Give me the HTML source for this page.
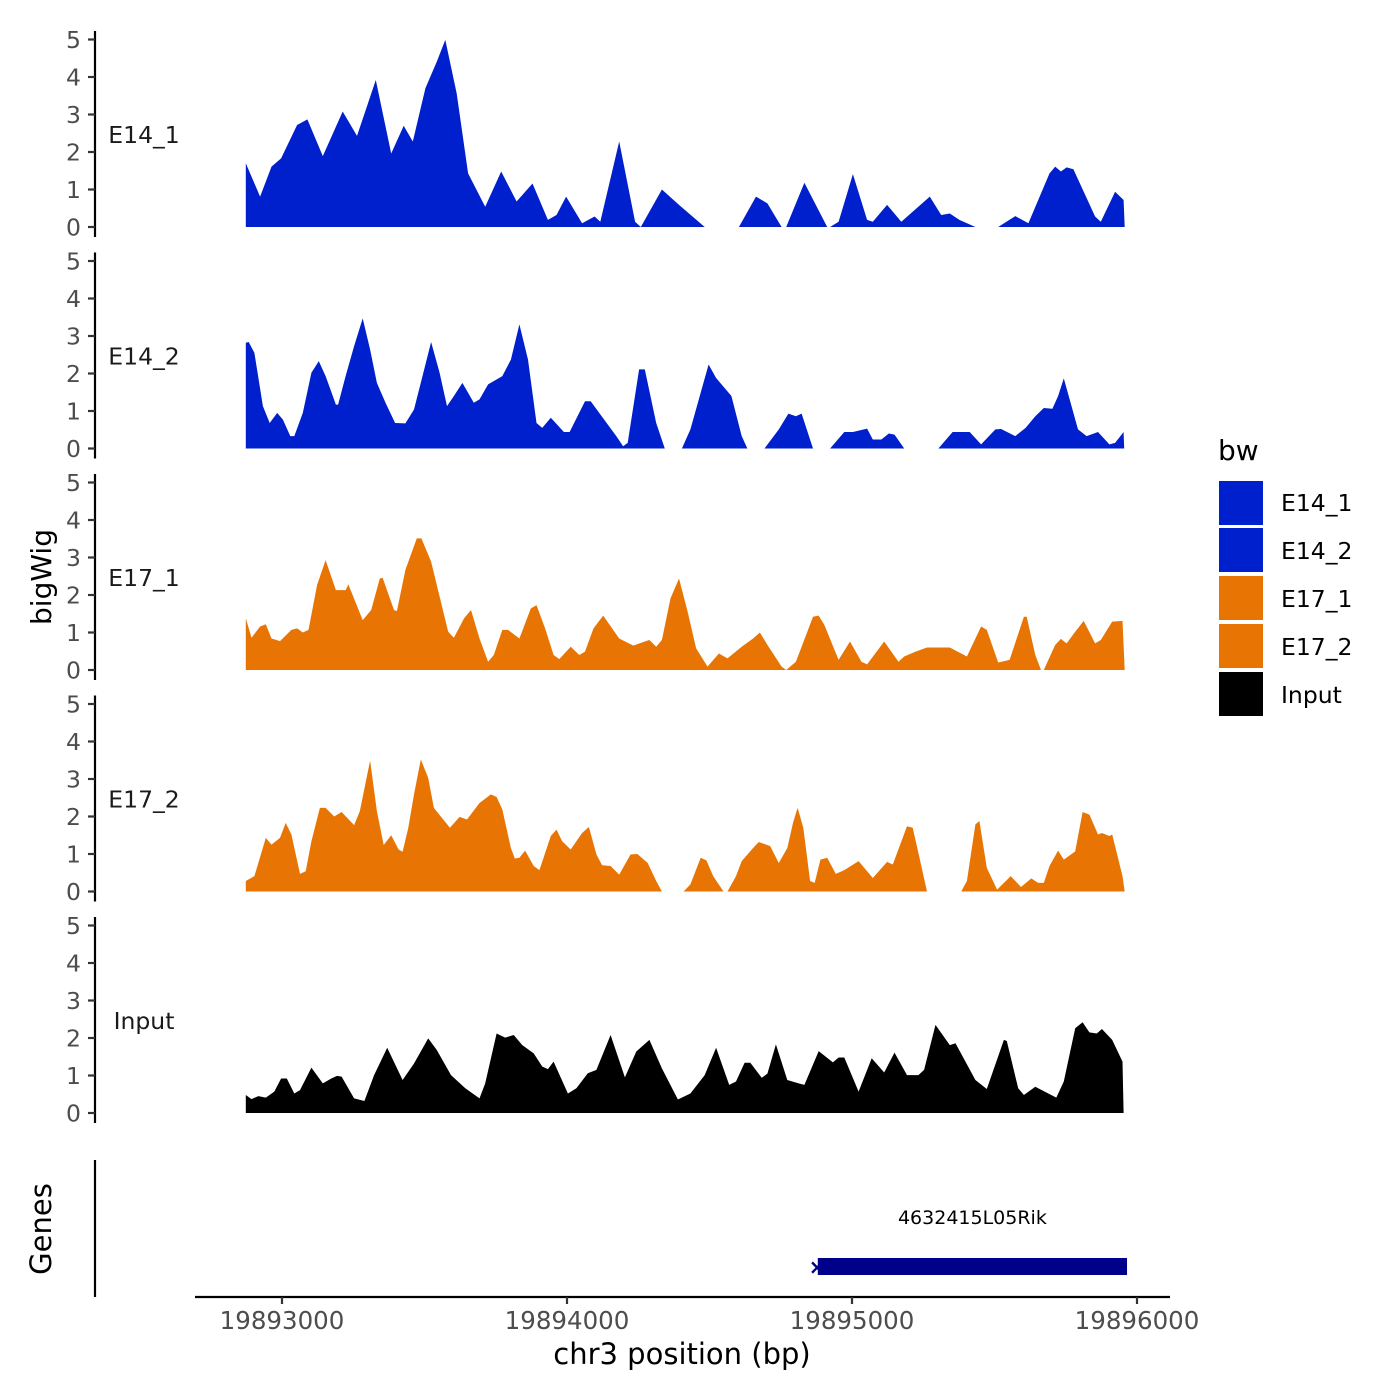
<!DOCTYPE html>
<html><head><meta charset="utf-8"><style>
html,body{margin:0;padding:0;background:#fff;}
svg{display:block;font-family:"DejaVu Sans","Liberation Sans",sans-serif;}
</style></head><body>
<svg id="chart" width="1400" height="1400" viewBox="0 0 1400 1400">
<g id="tracks"></g>
<g id="axes"></g>
<text x="51" y="577" transform="rotate(-90 51 577)" text-anchor="middle" font-size="28" fill="#000">bigWig</text>
<text x="51" y="1229" transform="rotate(-90 51 1229)" text-anchor="middle" font-size="29" fill="#000">Genes</text>
<line x1="95" y1="1160" x2="95" y2="1297" stroke="#000" stroke-width="2.2"/>
<line x1="195" y1="1297" x2="1170" y2="1297" stroke="#000" stroke-width="2.2"/>
<g id="xticks"></g>
<text x="682" y="1364" text-anchor="middle" font-size="29" fill="#000">chr3 position (bp)</text>
<g id="genes"></g>
<g>
<text x="1218" y="460" font-size="28" fill="#000">bw</text>
<rect x="1219" y="481" width="44" height="44" fill="#0020CD"/>
<text x="1281" y="511" font-size="23.5" fill="#000">E14_1</text>
<rect x="1219" y="528" width="44" height="44" fill="#0020CD"/>
<text x="1281" y="559" font-size="23.5" fill="#000">E14_2</text>
<rect x="1219" y="576" width="44" height="44" fill="#E87503"/>
<text x="1281" y="607" font-size="23.5" fill="#000">E17_1</text>
<rect x="1219" y="624" width="44" height="44" fill="#E87503"/>
<text x="1281" y="655" font-size="23.5" fill="#000">E17_2</text>
<rect x="1219" y="672" width="44" height="44" fill="#000"/>
<text x="1281" y="703" font-size="23.5" fill="#000">Input</text>
</g>
</svg>
<script>
const NS="http://www.w3.org/2000/svg";
const B0=19892853;
// zoom-unit offsets converted to bp positions (bp = B0 + 2*offset); null = gap
const offE141=[10,35,55,72,100,118,145,180,205,238,265,287,303,325,345,360,380,400,430,458,485,513,540,555,572,600,622,632,665,693,703,740,770,815,null,875,905,925,950,null,958,990,1030,null,1035,1050,1075,1100,1110,1135,1160,1210,1230,1245,1262,1290,null,1330,1360,1383,1420,1430,1440,1450,1462,1500,1510,1535,1550,1552];
const valE141=[1.70,0.81,1.61,1.83,2.72,2.87,1.89,3.08,2.43,3.92,1.96,2.70,2.28,3.70,4.41,4.99,3.56,1.43,0.54,1.48,0.68,1.16,0.19,0.32,0.81,0.10,0.28,0.14,2.28,0.14,0,1.0,0.59,0,null,0,0.81,0.63,0,null,0,1.18,0,null,0,0.14,1.41,0.19,0.14,0.59,0.14,0.81,0.32,0.36,0.19,0,null,0,0.29,0.10,1.43,1.61,1.48,1.59,1.54,0.28,0.14,0.94,0.72,0];
const offE142=[10,15,25,40,52,65,75,88,95,110,125,138,150,168,172,185,200,215,228,240,255,272,290,305,320,335,350,363,375,390,410,420,435,460,475,490,505,520,530,545,568,578,605,615,630,660,672,680,700,710,730,745,null,775,790,822,835,862,880,890,null,920,945,962,975,985,1005,null,1035,1060,1075,1100,1110,1125,1138,1148,1165,null,1225,1250,1280,1300,1325,1335,1360,1378,1395,1410,1425,1435,1445,1470,1485,1505,1525,1535,1550,1551];
const valE142=[2.82,2.84,2.55,1.13,0.68,0.95,0.77,0.33,0.33,0.95,2.02,2.33,1.93,1.17,1.17,1.93,2.73,3.47,2.64,1.75,1.22,0.68,0.67,1.04,1.93,2.84,2.02,1.13,1.40,1.75,1.22,1.31,1.71,1.93,2.37,3.31,2.37,0.68,0.55,0.82,0.44,0.44,1.26,1.26,0.95,0.33,0.06,0.15,2.11,2.11,0.68,0,null,0,0.51,2.24,1.88,1.40,0.33,0,null,0,0.51,0.93,0.86,0.93,0,null,0,0.44,0.44,0.53,0.24,0.24,0.40,0.37,0,null,0,0.44,0.44,0.11,0.51,0.52,0.33,0.55,0.86,1.08,1.06,1.40,1.87,0.51,0.33,0.44,0.11,0.15,0.44,0];
const offE171=[10,20,35,45,55,70,90,100,110,120,135,150,168,185,190,215,230,245,250,270,275,290,310,318,335,365,375,393,405,420,435,445,460,470,490,510,520,535,550,560,580,595,605,620,637,665,690,710,718,730,740,755,770,785,800,820,840,855,880,900,912,925,950,958,975,1005,1015,1025,1050,1070,1090,1100,1130,1155,1165,1185,1205,1245,1275,1300,1310,1330,1350,1375,1380,1395,1405,null,1410,1430,1440,1450,1465,1480,1500,1510,1530,1548,1552];
const valE171=[1.38,0.86,1.16,1.22,0.84,0.77,1.07,1.11,1.0,1.07,2.27,2.93,2.13,2.13,2.28,1.33,1.6,2.44,2.46,1.6,1.57,2.67,3.51,3.51,2.89,1.02,0.86,1.38,1.6,0.84,0.22,0.4,1.07,1.07,0.84,1.64,1.73,1.11,0.4,0.29,0.62,0.4,0.49,1.11,1.45,0.84,0.65,0.76,0.8,0.62,0.8,1.91,2.44,1.56,0.58,0.09,0.44,0.31,0.62,0.84,1.0,0.67,0.09,0,0.22,1.42,1.45,1.2,0.27,0.76,0.22,0.15,0.76,0.22,0.36,0.49,0.6,0.6,0.36,1.16,1.07,0.2,0.27,1.42,1.42,0.4,0,null,0,0.67,0.83,0.71,1.02,1.31,0.71,0.8,1.29,1.31,0];
const offE172=[10,25,45,55,70,80,90,105,115,125,140,150,165,178,200,210,228,240,252,265,278,285,295,305,317,330,340,350,368,385,398,420,440,450,460,475,482,490,500,515,525,545,555,565,580,600,612,625,635,650,665,685,697,715,730,740,null,778,790,808,818,830,848,null,855,870,880,900,910,930,945,960,970,978,988,1000,1008,1018,1030,1045,1060,1085,1110,1135,1145,1170,1180,1190,1205,null,1265,1275,1290,1297,1310,1328,1352,1370,1388,1400,1410,1420,1435,1445,1465,1478,1490,1505,1512,1525,1530,1548,1552];
const valE172=[0.28,0.41,1.43,1.25,1.43,1.83,1.52,0.47,0.54,1.34,2.23,2.23,2.0,2.12,1.77,2.14,3.49,2.14,1.24,1.50,1.12,1.06,1.70,2.59,3.52,3.03,2.23,2.04,1.70,1.99,1.92,2.36,2.59,2.52,2.19,1.16,0.88,0.9,1.09,0.68,0.57,1.48,1.65,1.34,1.12,1.56,1.72,0.99,0.70,0.68,0.45,0.99,1.0,0.76,0.28,0,null,0,0.19,0.9,0.83,0.41,0,null,0,0.41,0.81,1.16,1.32,1.21,0.76,1.16,1.83,2.23,1.70,0.28,0.23,0.85,0.9,0.47,0.57,0.81,0.36,0.79,0.72,1.74,1.70,1.03,0,null,0,0.28,1.79,1.88,0.63,0.05,0.41,0.12,0.35,0.23,0.23,0.68,1.09,0.85,1.07,2.12,2.05,1.52,1.56,1.48,1.52,0.41,0];
const offInput=[10,20,32,45,60,72,82,95,105,125,145,160,170,178,200,218,235,258,285,305,330,345,370,395,420,430,450,465,480,495,515,530,540,550,575,590,610,625,650,675,695,718,740,768,790,815,835,858,870,885,895,915,925,940,960,980,990,1015,1040,1050,1060,1085,1108,1130,1148,1170,1190,1200,1220,1245,1255,1290,1310,1340,1345,1365,1375,1395,1432,1445,1465,1478,1490,1503,1512,1530,1548,1550];
const valInput=[0.48,0.37,0.45,0.41,0.57,0.92,0.92,0.52,0.61,1.21,0.79,0.92,0.99,0.97,0.39,0.32,1.01,1.74,0.88,1.32,1.99,1.68,1.01,0.66,0.39,0.79,2.12,2.01,2.08,1.81,1.59,1.24,1.17,1.37,0.52,0.66,1.06,1.15,2.08,0.95,1.64,1.95,1.19,0.36,0.52,1.01,1.74,0.75,0.84,1.34,1.34,0.94,1.05,1.83,0.88,0.79,0.75,1.65,1.35,1.48,1.48,0.57,1.46,1.08,1.61,1.01,1.01,1.15,2.35,1.81,1.86,0.88,0.64,1.95,1.92,0.66,0.48,0.70,0.41,0.84,2.26,2.42,2.15,2.12,2.24,1.95,1.37,0];
const yTicks=[0,1,2,3,4,5];
const xTicks=[19893000,19894000,19895000,19896000];
const trackNames=["E14_1","E14_2","E17_1","E17_2","Input"];
const geneStart=19894880, geneEnd=19895965, geneLabel="4632415L05Rik";

const posOf=o=>o.map(v=>v===null?null:B0+2*v);
const tracks=[
 {name:"E14_1",pos:posOf(offE141),val:valE141,color:"#0020CD"},
 {name:"E14_2",pos:posOf(offE142),val:valE142,color:"#0020CD"},
 {name:"E17_1",pos:posOf(offE171),val:valE171,color:"#E87503"},
 {name:"E17_2",pos:posOf(offE172),val:valE172,color:"#E87503"},
 {name:"Input",pos:posOf(offInput),val:valInput,color:"#000000"}];
const xs=bp=>282+(bp-19893000)*0.285;
const baseY=i=>227+i*221.5;
const ys=(i,v)=>baseY(i)-v*37.5;
function mk(tag,attrs,parent){const e=document.createElementNS(NS,tag);for(const k in attrs)e.setAttribute(k,attrs[k]);parent.appendChild(e);return e;}
const gT=document.getElementById('tracks'), gA=document.getElementById('axes');
tracks.forEach((t,i)=>{
  const g=mk('g',{},gT);
  
  
  let segs=[],cur=[];
  t.pos.forEach((p,j)=>{if(p===null||t.val[j]===null){if(cur.length)segs.push(cur);cur=[];}else cur.push([xs(p),ys(i,t.val[j])]);});
  if(cur.length)segs.push(cur);
  segs.forEach(s=>{
    let d='M'+s[0][0].toFixed(1)+','+baseY(i).toFixed(1);
    s.forEach(p=>d+='L'+p[0].toFixed(1)+','+p[1].toFixed(1));
    d+='L'+s[s.length-1][0].toFixed(1)+','+baseY(i).toFixed(1)+'Z';
    const a=mk('path',{d:d,fill:t.color},g);
    
    
  });
  const ax=mk('line',{x1:95,x2:95,y1:baseY(i)-196,y2:baseY(i)+10,stroke:'#000','stroke-width':2.2},gA);
  
  
  yTicks.forEach(v=>{
    const tk=mk('line',{x1:88,x2:95,y1:ys(i,v),y2:ys(i,v),stroke:'#333','stroke-width':2.2},gA);
    
    
    const tl=mk('text',{x:81,y:ys(i,v)+8.5,'text-anchor':'end','font-size':23.5,fill:'#4d4d4d'},gA);
    tl.textContent=v;
    
    
  });
  const lb=mk('text',{x:144,y:baseY(i)-84,'text-anchor':'middle','font-size':23.5,fill:'#1a1a1a'},gA);
  lb.textContent=trackNames[i];
  
  
});
const gX=document.getElementById('xticks');
xTicks.forEach(v=>{
  const tk=mk('line',{x1:xs(v),x2:xs(v),y1:1297,y2:1304,stroke:'#333','stroke-width':2.2},gX);
  
  
  const tl=mk('text',{x:xs(v),y:1329,'text-anchor':'middle','font-size':24.5,fill:'#4d4d4d'},gX);
  tl.textContent=v;
  
  
});
const gG=document.getElementById('genes');
const gr=mk('rect',{x:xs(geneStart),y:1258,width:xs(geneEnd)-xs(geneStart),height:17,fill:'#00008B'},gG);


const gm=mk('text',{x:xs(geneStart)-9,y:1274,'font-size':20,'font-weight':'bold',fill:'#00008B'},gG);
gm.textContent='×';


const gl=mk('text',{x:(xs(geneStart)+xs(geneEnd))/2,y:1224,'text-anchor':'middle','font-size':19,fill:'#000'},gG);
gl.textContent=geneLabel;


</script>
</body></html>
